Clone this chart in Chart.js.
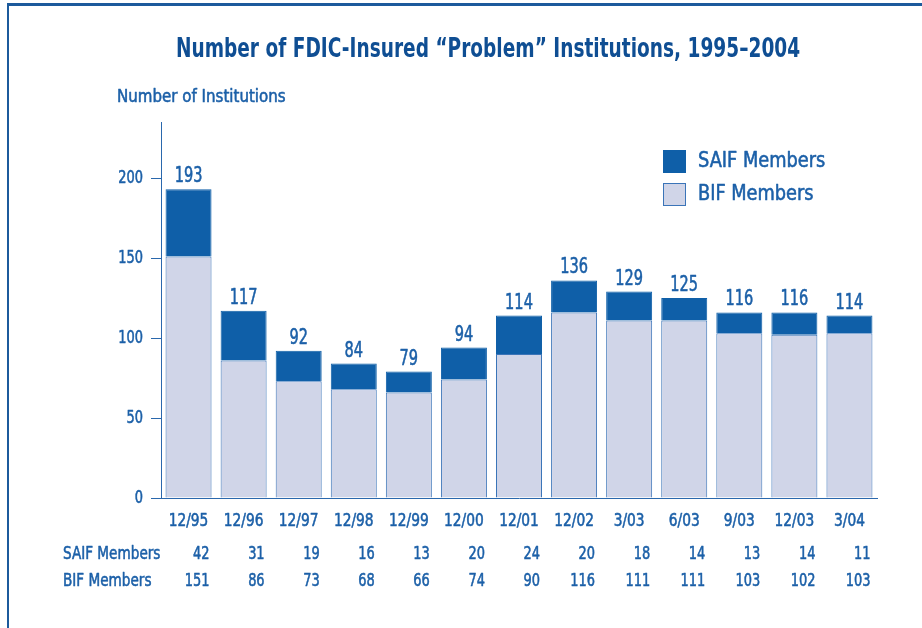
<!DOCTYPE html>
<html><head><meta charset="utf-8">
<script src="https://cdn.jsdelivr.net/npm/chart.js@4.4.1/dist/chart.umd.min.js"></script>
<style>html,body{margin:0;padding:0;background:#fff}#wrap{width:922px;height:628px;position:relative}</style>
</head><body><div id="wrap"><canvas id="c" width="922" height="628"></canvas></div>
<script>
const categories = ["12/95","12/96","12/97","12/98","12/99","12/00","12/01","12/02","3/03","6/03","9/03","12/03","3/04"];
const saifMembers = [42,31,19,16,13,20,24,20,18,14,13,14,11];
const bifMembers  = [151,86,73,68,66,74,90,116,111,111,103,102,103];
const totals      = [193,117,92,84,79,94,114,136,129,125,116,116,114];
const yTicks = [0,50,100,150,200];
const titleText = "Number of FDIC-Insured \u201cProblem\u201d Institutions, 1995\u20132004";
const yAxisTitle = "Number of Institutions";
const rowLabels = ["SAIF Members","BIF Members"];

const FONT = "'DejaVu Sans Condensed','DejaVu Sans',sans-serif";
const TXT = '#1c60a8';
const DARK = '#0f5fa8';
const LIGHT = '#d0d5e8';
const LINE = '#2a68ad';

function txt(ctx, s, x, y, align, font, sx, color, sw) {
  const w = sw === undefined ? 0.55 : sw;
  ctx.save();
  ctx.font = font;
  ctx.fillStyle = color || TXT;
  ctx.strokeStyle = color || TXT;
  ctx.lineJoin = 'round';
  ctx.textAlign = align;
  ctx.translate(x, y);
  ctx.scale(sx, 1);
  ctx.fillText(s, 0, 0);
  if (w > 0) { ctx.lineWidth = w; ctx.strokeText(s, 0, 0); }
  ctx.restore();
}

const extras = {
  id: 'extras',
  beforeDraw(chart) {
    const ctx = chart.ctx;
    ctx.save();
    ctx.fillStyle = '#fff';
    ctx.fillRect(0,0,chart.width,chart.height);
    ctx.fillStyle = '#1c5a9c';
    ctx.fillRect(7, 3, chart.width - 7, 3);
    ctx.fillRect(7, 3, 2, chart.height - 3);
    ctx.restore();
  },
  afterDraw(chart) {
    const ctx = chart.ctx;
    const x = chart.scales.x, y = chart.scales.y;
    ctx.save();
    ctx.textBaseline = 'middle';
    txt(ctx, titleText, 488, 50, 'center', "bold 27px " + FONT, 0.764, '#0f4e93', 0);
    txt(ctx, yAxisTitle, 117, 97, 'left', "18px " + FONT, 0.93);
    y.ticks.forEach((t, i) => {
      txt(ctx, String(t.value), 143, y.getPixelForTick(i), 'right', "18px " + FONT, 0.8);
    });
    x.ticks.forEach((t, i) => {
      txt(ctx, categories[t.value], x.getPixelForTick(i), 521, 'center', "18px " + FONT, 0.85);
    });
    const meta = chart.getDatasetMeta(1);
    ctx.textBaseline = 'alphabetic';
    totals.forEach((t,i) => {
      const bar = meta.data[i];
      txt(ctx, String(t), bar.x, y.getPixelForValue(t) - 7, 'center', "21px " + FONT, 0.77);
    });
    ctx.textBaseline = 'middle';
    txt(ctx, rowLabels[0], 63, 554, 'left', "18px " + FONT, 0.84);
    txt(ctx, rowLabels[1], 63, 581, 'left', "18px " + FONT, 0.84);
    const bw = meta.data[0].width;
    categories.forEach((c,i) => {
      const cx = x.getPixelForValue(i) + bw/2 - 2;
      txt(ctx, String(saifMembers[i]), cx, 554, 'right', "18px " + FONT, 0.8);
      txt(ctx, String(bifMembers[i]), cx, 581, 'right', "18px " + FONT, 0.8);
    });
    const items = [chart.data.datasets[1], chart.data.datasets[0]];
    items.forEach((ds, k) => {
      const top = 150 + k*33;
      ctx.fillStyle = ds.backgroundColor;
      ctx.fillRect(663, top, 23, 23);
      ctx.strokeStyle = ds.borderColor;
      ctx.lineWidth = 1;
      ctx.strokeRect(663.5, top+0.5, 22, 22);
      txt(ctx, ds.label, 698, top + 12, 'left', "21px " + FONT, 0.94);
    });
    ctx.restore();
  }
};

new Chart(document.getElementById('c'), {
  type: 'bar',
  data: {
    labels: categories,
    datasets: [
      { label: 'BIF Members', data: bifMembers, backgroundColor: LIGHT, borderColor: '#3a74b8', borderWidth: 1, borderSkipped: 'bottom' },
      { label: 'SAIF Members', data: saifMembers, backgroundColor: DARK, borderColor: DARK, borderWidth: 1, borderSkipped: 'bottom' }
    ]
  },
  options: {
    responsive: false,
    animation: false,
    devicePixelRatio: 1,
    layout: { padding: { left: 0, right: 45, top: 122, bottom: 0 } },
    datasets: { bar: { barPercentage: 0.835, categoryPercentage: 1 } },
    plugins: { legend: { display: false }, title: { display: false }, tooltip: { enabled: false } },
    scales: {
      x: {
        stacked: true,
        grid: { drawOnChartArea: false, drawTicks: false },
        border: { color: LINE, width: 1 },
        ticks: { display: false, autoSkip: false },
        afterFit(s) { s.height = 130; }
      },
      y: {
        stacked: true,
        min: 0, max: 235,
        grid: { drawOnChartArea: false, tickLength: 10, color: LINE },
        border: { color: LINE, width: 1 },
        ticks: { display: false, stepSize: 50, includeBounds: false },
        afterBuildTicks(s) { s.ticks = yTicks.map(v => ({ value: v })); },
        afterFit(s) { s.width = 161; }
      }
    }
  },
  plugins: [extras]
});
</script></body></html>
